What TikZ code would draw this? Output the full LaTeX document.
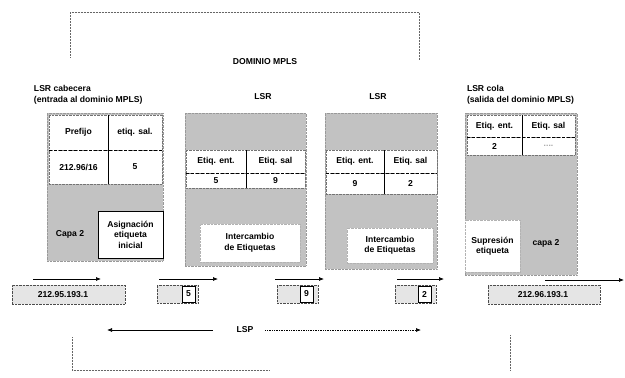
\documentclass[tikz,border=0pt]{standalone}
\usepackage{fontspec}
\setmainfont{Liberation Sans}
\usetikzlibrary{arrows.meta}
\definecolor{boxgray}{gray}{0.76}
\definecolor{pktgray}{gray}{0.9}
\begin{document}
\begin{tikzpicture}[x=1pt,y=-1pt,
  every node/.style={font=\fontsize{8.6}{10.5}\selectfont\bfseries, inner sep=0pt, outer sep=0pt},
  wh/.style 2 args={minimum width=#1pt, minimum height=#2pt},
  lsrbox/.style={fill=boxgray, draw=black!40, densely dotted, anchor=north west},
  cell/.style={fill=white, draw=black!55, densely dotted, anchor=north west},
  wbox/.style={fill=white, draw=black!30, densely dotted, anchor=north west, align=center},
  sbox/.style={fill=white, draw=black, line width=0.9pt, anchor=north west, align=center},
  lbl/.style={anchor=west, align=left},
  bracket/.style={draw=black!60, densely dotted, line width=0.5pt},
  flow/.style={-{Latex[length=5pt,width=4pt]}, line width=0.7pt},
  pkt/.style={fill=pktgray, draw=black!70, densely dotted, anchor=north west},
  tag/.style={fill=white, draw=black, line width=0.6pt, anchor=north west},
  vdiv/.style={draw=black, line width=0.6pt},
  hdiv/.style={draw=black, densely dashed, line width=0.6pt}]
\useasboundingbox (0,0) rectangle (625,378);

% top bracket
\coordinate (t1) at (70,57);
\coordinate (t2) at (70,12);
\coordinate (t3) at (419,12);
\coordinate (t4) at (419,60);
\draw[bracket] (t1) -- (t2) -- (t3) -- (t4);

\node (dom) at (265,62) {DOMINIO MPLS};

% labels
\node[lbl] (l1) at (34,95) {LSR cabecera\\(entrada al dominio MPLS)};
\node (l2) at (263,97) {LSR};
\node (l3) at (378,97) {LSR};
\node[lbl] (l4) at (467,95) {LSR cola\\(salida del dominio MPLS)};

% LSR boxes
\node[lsrbox, wh={116}{148}] (r1) at (47,113) {};
\node[lsrbox, wh={121}{153}] (r2) at (185,113) {};
\node[lsrbox, wh={112}{156}] (r3) at (325,113) {};
\node[lsrbox, wh={112}{162}] (r4) at (465,113) {};

% table 1
\node[cell, wh={59}{35}] (p11) at (49,115) {Prefijo};
\node[cell, wh={54}{35}] (p12) at (108,115) {etiq. sal.};
\node[cell, wh={59}{34}] (p21) at (49,150) {212.96/16};
\node[cell, wh={54}{34}] (p22) at (108,150) {5};
\draw[hdiv] (p11.south west) -- (p12.south east);
\draw[vdiv] (p12.north west) -- (p22.south west);

\node (capa1) at (70,234) {Capa 2};
\node[sbox, wh={65}{47}] (asig) at (98,211) {Asignación\\etiqueta\\inicial};

% table 2
\node[cell, wh={60}{23}] (a11) at (186,150) {Etiq. ent.};
\node[cell, wh={59}{23}] (a12) at (246,150) {Etiq. sal};
\node[cell, wh={60}{15}] (a21) at (186,173) {5};
\node[cell, wh={59}{15}] (a22) at (246,173) {9};
\draw[hdiv] (a11.south west) -- (a12.south east);
\draw[vdiv] (a12.north west) -- (a22.south west);
\node[wbox, wh={100}{38}] (int1) at (200,224) {Intercambio\\de Etiquetas};

% table 3
\node[cell, wh={58}{23}] (b11) at (326,150) {Etiq. ent.};
\node[cell, wh={53}{23}] (b12) at (384,150) {Etiq. sal};
\node[cell, wh={58}{21}] (b21) at (326,173) {9};
\node[cell, wh={53}{21}] (b22) at (384,173) {2};
\draw[hdiv] (b11.south west) -- (b12.south east);
\draw[vdiv] (b12.north west) -- (b22.south west);
\node[wbox, wh={86}{35}] (int2) at (347,228) {Intercambio\\de Etiquetas};

% table 4
\node[cell, wh={55}{22}] (c11) at (467,115) {Etiq. ent.};
\node[cell, wh={53}{22}] (c12) at (522,115) {Etiq. sal};
\node[cell, wh={55}{18}] (c21) at (467,137) {2};
\node[cell, wh={53}{18}, text=black!35] (c22) at (522,137) {....};
\draw[hdiv] (c11.south west) -- (c12.south east);
\draw[vdiv] (c12.north west) -- (c22.south west);
\node[wbox, wh={55}{52}] (sup) at (465,220) {Supresión\\etiqueta};
\node (capa4) at (546,243) {capa 2};

% flow arrows
\coordinate (f1a) at (33,279);  \coordinate (f1b) at (101,279);
\coordinate (f2a) at (159,279); \coordinate (f2b) at (218,279);
\coordinate (f3a) at (275,279); \coordinate (f3b) at (324,279);
\coordinate (f4a) at (397,279); \coordinate (f4b) at (444,279);
\coordinate (f5a) at (545,280); \coordinate (f5b) at (624,280);
\draw[flow] (f1a) -- (f1b);
\draw[flow] (f2a) -- (f2b);
\draw[flow] (f3a) -- (f3b);
\draw[flow] (f4a) -- (f4b);
\draw[flow] (f5a) -- (f5b);

% packets
\node[pkt, wh={113}{19}] (k1) at (12,285) {};
\node (k1t) at (63,294.5) {212.95.193.1};
\node[pkt, wh={41}{18}] (k2) at (157,285) {};
\node[tag, wh={13}{16}] (k2t) at (182,286) {5};
\node[pkt, wh={41}{18}] (k3) at (277,285) {};
\node[tag, wh={13}{16}] (k3t) at (300,286) {9};
\node[pkt, wh={41}{18}] (k4) at (395,285) {};
\node[tag, wh={13}{16}] (k4t) at (418,286) {2};
\node[pkt, wh={112}{19}] (k5) at (488,285) {};
\node (k5t) at (543,294.5) {212.96.193.1};

% LSP
\node (lsp) at (245,330) {LSP};
\coordinate (lspL) at (107,330);
\coordinate (lspR) at (421,330);
\draw[flow] (lsp.west) ++(-24,0) -- (lspL);
\draw[flow, densely dotted] (lsp.east) ++(12,0) -- (lspR);

% bottom bracket
\coordinate (b1) at (72,337);
\coordinate (b2) at (72,370);
\coordinate (b3) at (270,370);
\coordinate (b4) at (510,335);
\coordinate (b5) at (510,370);
\draw[bracket] (b1) -- (b2) -- (b3);
\draw[bracket] (b4) -- (b5);
\end{tikzpicture}
\end{document}
